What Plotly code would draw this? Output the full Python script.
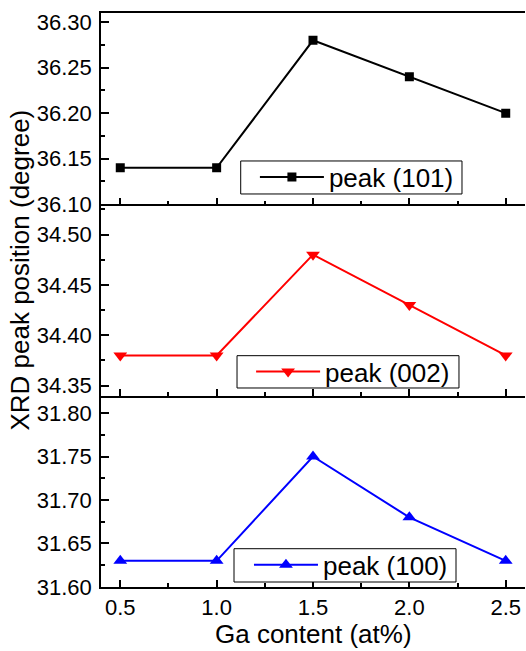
import plotly.graph_objects as go

ga_content = [0.5, 1.0, 1.5, 2.0, 2.5]
peak_101 = [36.14, 36.14, 36.28, 36.24, 36.20]
peak_002 = [34.38, 34.38, 34.48, 34.43, 34.38]
peak_100 = [31.63, 31.63, 31.75, 31.68, 31.63]

FONT = "Liberation Sans, Arial, sans-serif"

fig = go.Figure()
fig.add_trace(go.Scatter(x=ga_content, y=peak_101, mode="lines+markers", name="peak (101)",
                         line=dict(color="black", width=2),
                         marker=dict(symbol="square", size=9, color="black"),
                         xaxis="x", yaxis="y", legend="legend", showlegend=True))
fig.add_trace(go.Scatter(x=ga_content, y=peak_002, mode="lines+markers", name="peak (002)",
                         line=dict(color="#ff0000", width=2),
                         marker=dict(symbol="triangle-down", size=12, color="#ff0000"),
                         xaxis="x2", yaxis="y2", legend="legend2", showlegend=True))
fig.add_trace(go.Scatter(x=ga_content, y=peak_100, mode="lines+markers", name="peak (100)",
                         line=dict(color="#0000ff", width=2),
                         marker=dict(symbol="triangle-up", size=12, color="#0000ff"),
                         xaxis="x3", yaxis="y3", legend="legend3", showlegend=True))

xcommon = dict(range=[0.4, 2.6], showline=True, linecolor="black", linewidth=1.5,
               ticks="inside", ticklen=7, tickwidth=1.5, tickcolor="black",
               tick0=0.5, dtick=0.5, tickformat=".1f",
               minor=dict(ticks="inside", ticklen=4, tickwidth=1.5, tickcolor="black", dtick=0.25, tick0=0.25, showgrid=False),
               showgrid=False, zeroline=False,
               tickfont=dict(family=FONT, size=22, color="black"))
ycommon = dict(showline=True, linecolor="black", linewidth=1.5,
               ticks="inside", ticklen=8, tickwidth=1.5, tickcolor="black",
               dtick=0.05, tickformat=".2f",
               minor=dict(ticks="inside", ticklen=4, tickwidth=1.5, tickcolor="black", dtick=0.025, showgrid=False),
               showgrid=False, zeroline=False, ticklabelstandoff=3,
               tickfont=dict(family=FONT, size=22, color="black"))

legend_style = dict(xanchor="left", yanchor="top", borderwidth=0,
                    bgcolor="rgba(0,0,0,0)", font=dict(family=FONT, size=26, color="black"), itemwidth=64)

# legend frames (decoration only), in paper coordinates
legend_boxes = [
    (0.3295, 0.8514, 0.6847, 0.7422),
    (0.3208, 0.8443, 0.3467, 0.4030),
    (0.3137, 0.8373, 0.0087, 0.0667),
]
shapes = [dict(type="rect", xref="paper", yref="paper", x0=a, x1=b, y0=c, y1=d,
               line=dict(color="black", width=1), fillcolor="white", layer="above")
          for a, b, c, d in legend_boxes]

d1, d2 = 1/3, 2/3
fig.update_layout(
    width=526, height=651,
    margin=dict(l=101, r=1, t=13, b=64),
    paper_bgcolor="white", plot_bgcolor="white",
    font=dict(family=FONT, color="black"),
    showlegend=True,
    xaxis=dict(**xcommon, anchor="y", showticklabels=False, mirror=True),
    xaxis2=dict(**xcommon, anchor="y2", matches="x", showticklabels=False),
    xaxis3=dict(**xcommon, anchor="y3", matches="x", showticklabels=True),
    yaxis=dict(**ycommon, domain=[d2, 1], range=[36.0999, 36.31], tick0=36.10),
    yaxis2=dict(**ycommon, domain=[d1, d2], range=[34.34, 34.53], tick0=34.35),
    yaxis3=dict(**ycommon, domain=[0, d1], range=[31.5999, 31.82], tick0=31.60),
    legend=dict(x=0.363, y=0.7552, **legend_style),
    legend2=dict(x=0.354, y=0.4164, **legend_style),
    legend3=dict(x=0.349, y=0.0796, **legend_style),
    shapes=shapes,
    annotations=[
        dict(text="XRD peak position (degree)", xref="paper", yref="paper", x=-0.19, y=0.552,
             xanchor="center", yanchor="middle", textangle=-90, showarrow=False,
             font=dict(family=FONT, size=26, color="black")),
        dict(text="Ga content (at%)", xref="paper", yref="paper", x=0.5, y=-0.082,
             xanchor="center", yanchor="middle", showarrow=False,
             font=dict(family=FONT, size=26, color="black")),
    ],
)

fig.write_html("out.html", config={"displayModeBar": False},
               post_script="document.body.style.margin='0';document.body.style.overflow='hidden';")
